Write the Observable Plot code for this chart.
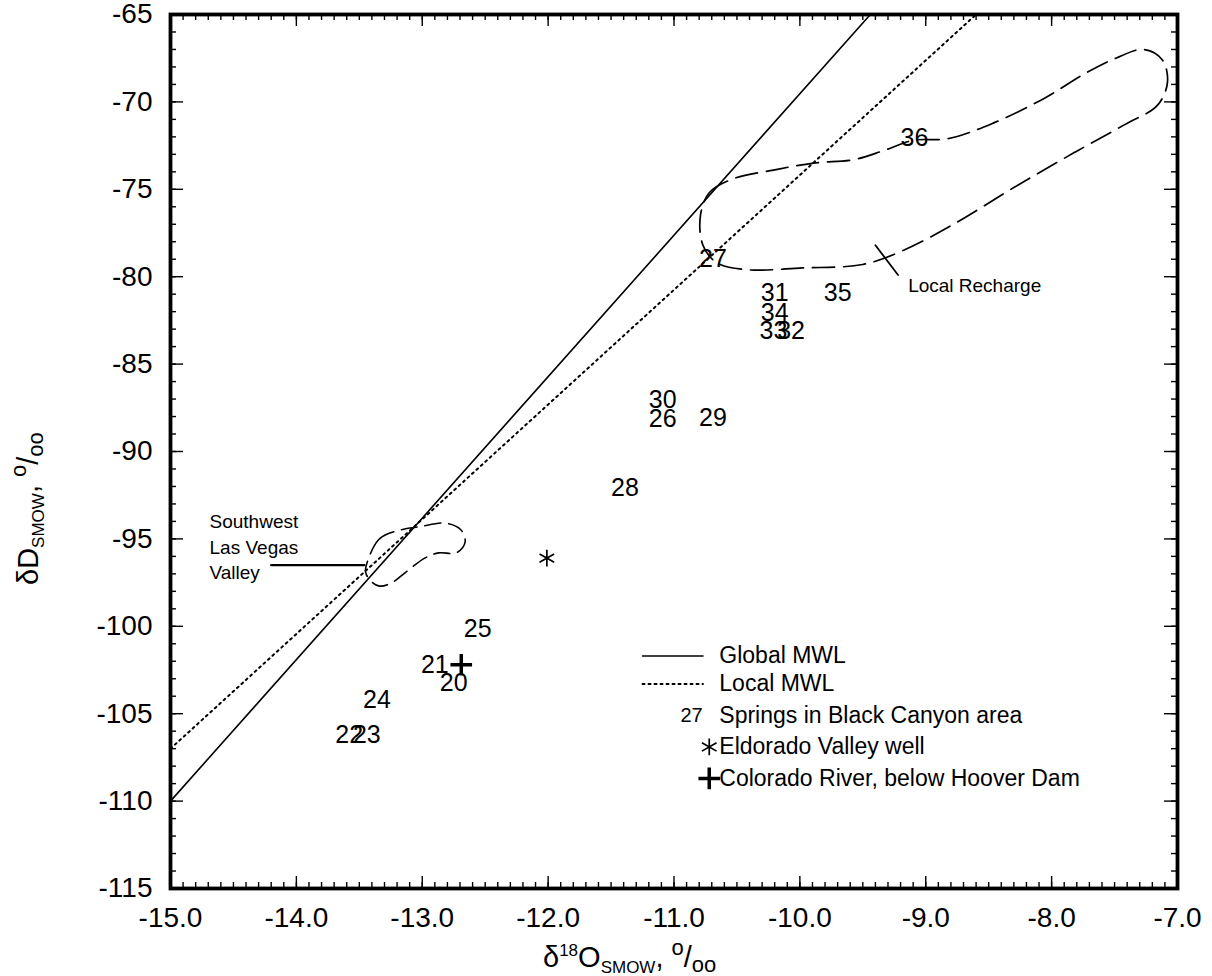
<!DOCTYPE html>
<html>
<head>
<meta charset="utf-8">
<script src="https://cdn.jsdelivr.net/npm/d3@7"></script>
<script src="https://cdn.jsdelivr.net/npm/@observablehq/plot@0.6"></script>
<style>
  body { margin: 0; background: #fff; }
  #chart { position: relative; width: 1212px; height: 976px; font-family: "Liberation Sans", Arial, sans-serif; color: #000; }
  #chart svg { position: absolute; left: 0; top: 0; }
  .axis-title { position: absolute; left: 0; top: 0; font-size: 29px; line-height: 29px; white-space: nowrap; transform-origin: 0 0; }
  .axis-title .sup { position: relative; top: -11px; font-size: 17px; }
  .axis-title .sub { position: relative; top: 6px; font-size: 17px; }
  .axis-title .pm-sup { position: relative; top: -12px; font-size: 22px; }
  .axis-title .pm-sub { position: relative; top: 5px; font-size: 22px; }
</style>
</head>
<body>
<div id="chart"></div>
<script>
// Axis ticks (per mil)
const xTicks = [-15, -14, -13, -12, -11, -10, -9, -8, -7];
const yTicks = [-115, -110, -105, -100, -95, -90, -85, -80, -75, -70, -65];

// Springs in the Black Canyon area: sample number, δ18O, δD
const springIds = ["20", "21", "22", "23", "24", "25", "26", "27", "28", "29", "30", "31", "32", "33", "34", "35", "36"];
const springO18 = [-12.75, -12.90, -13.58, -13.44, -13.36, -12.56, -11.09, -10.69, -11.39, -10.69, -11.09, -10.20, -10.07, -10.21, -10.20, -9.70, -9.09];
const springD   = [-103.25, -102.2, -106.2, -106.2, -104.2, -100.15, -88.15, -79.0, -92.1, -88.1, -87.07, -80.95, -83.1, -83.1, -82.06, -80.95, -72.05];

// Eldorado Valley well and Colorado River below Hoover Dam
const wellO18 = [-12.01];
const wellD = [-96.1];
const riverO18 = [-12.69];
const riverD = [-102.2];

// Meteoric water lines (end points)
const globalMwlO18 = [-15, -9.44];
const globalMwlD = [-110, -65];
const localMwlO18 = [-15, -8.6];
const localMwlD = [-107, -65];

// Envelope of local recharge waters
const rechargeO18 = [-10.79, -10.72, -10.53, -10.21, -9.89, -9.57, -9.34, -9.10, -8.82, -8.46, -8.06, -7.74, -7.49, -7.27, -7.12, -7.08, -7.16, -7.42, -7.82, -8.30, -8.78, -9.18, -9.50, -9.98, -10.42, -10.66, -10.77];
const rechargeD   = [-76.5, -75.2, -74.4, -73.9, -73.5, -73.3, -72.8, -72.2, -72.1, -71.2, -69.8, -68.4, -67.5, -67.0, -67.6, -68.9, -70.2, -71.3, -72.9, -74.9, -77.0, -78.5, -79.3, -79.5, -79.6, -79.2, -78.2];

// Envelope of Southwest Las Vegas Valley waters
const swlvO18 = [-13.44, -13.34, -13.18, -13.02, -12.81, -12.69, -12.66, -12.73, -12.87, -12.98, -13.13, -13.24, -13.34, -13.41, -13.45];
const swlvD   = [-96.4, -95.0, -94.5, -94.3, -94.1, -94.5, -95.2, -95.8, -95.8, -96.1, -96.9, -97.5, -97.7, -97.4, -96.9];

// Annotation leaders
const rechargeLeaderO18 = [-9.40, -9.22];
const rechargeLeaderD = [-78.2, -79.9];
const swlvLeaderO18 = [-14.2, -13.46];
const swlvLeaderD = [-96.5, -96.5];
const swlvText = ["Southwest", "Las Vegas", "Valley"];
const swlvTextD = [-94.05, -95.5, -96.95];

// Legend
const legendLabels = ["Global MWL", "Local MWL", "Springs in Black Canyon area", "Eldorado Valley well", "Colorado River, below Hoover Dam"];
const legendD = [-101.7, -103.3, -105.1, -106.9, -108.7];

const pts = (xs, ys) => xs.map((x, i) => ({x, y: ys[i]}));
const springs = springIds.map((id, i) => ({id, x: springO18[i], y: springD[i]}));

const xMinor = d3.range(-150, -69).map(d => d / 10);
const yMinor = d3.range(-115, -64);

const tickStyle = {stroke: "black", strokeWidth: 1.4};

const chart = Plot.plot({
  width: 1212,
  height: 976,
  marginLeft: 170,
  marginRight: 35,
  marginTop: 14,
  marginBottom: 88,
  x: {domain: [-15, -7], axis: null},
  y: {domain: [-115, -65], axis: null},
  style: {fontFamily: '"Liberation Sans", Arial, sans-serif', background: "#fff", color: "#000", overflow: "visible"},
  marks: [
    // inward ticks on all four sides
    Plot.ruleX(xMinor, {x: d => d, y1: -115, y2: -115, insetBottom: 6, ...tickStyle}),
    Plot.ruleX(xTicks, {x: d => d, y1: -115, y2: -115, insetBottom: 12, ...tickStyle}),
    Plot.ruleX(xMinor, {x: d => d, y1: -65, y2: -65, insetTop: 6, ...tickStyle}),
    Plot.ruleX(xTicks, {x: d => d, y1: -65, y2: -65, insetTop: 12, ...tickStyle}),
    Plot.ruleY(yMinor, {y: d => d, x1: -15, x2: -15, insetLeft: 6, ...tickStyle}),
    Plot.ruleY(yTicks, {y: d => d, x1: -15, x2: -15, insetLeft: 13, ...tickStyle}),
    Plot.ruleY(yMinor, {y: d => d, x1: -7, x2: -7, insetRight: 6, ...tickStyle}),
    Plot.ruleY(yTicks, {y: d => d, x1: -7, x2: -7, insetRight: 13, ...tickStyle}),
    Plot.frame({stroke: "black", strokeWidth: 3.8}),

    // tick labels
    Plot.text(xTicks, {x: d => d, y: -115, text: d => d.toFixed(1), dy: 30, fontSize: 28}),
    Plot.text(yTicks, {x: -15, y: d => d, text: d => String(d), textAnchor: "end", dx: -18, fontSize: 28}),

    // meteoric water lines
    Plot.line(pts(globalMwlO18, globalMwlD), {x: "x", y: "y", stroke: "black", strokeWidth: 1.6}),
    Plot.line(pts(localMwlO18, localMwlD), {x: "x", y: "y", stroke: "black", strokeWidth: 2, strokeDasharray: "2,4"}),

    // envelopes
    Plot.line(pts(rechargeO18, rechargeD), {x: "x", y: "y", curve: "catmull-rom-closed", stroke: "black", strokeWidth: 1.7, strokeDasharray: "22,9"}),
    Plot.line(pts(swlvO18, swlvD), {x: "x", y: "y", curve: "catmull-rom-closed", stroke: "black", strokeWidth: 1.6, strokeDasharray: "16,8"}),

    // annotations
    Plot.line(pts(rechargeLeaderO18, rechargeLeaderD), {x: "x", y: "y", stroke: "black", strokeWidth: 1.8}),
    Plot.text(["Local Recharge"], {x: -9.14, y: -80.55, text: d => d, textAnchor: "start", fontSize: 19}),
    Plot.line(pts(swlvLeaderO18, swlvLeaderD), {x: "x", y: "y", stroke: "black", strokeWidth: 2.4}),
    Plot.text(swlvText, {x: -14.69, y: (d, i) => swlvTextD[i], text: d => d, textAnchor: "start", fontSize: 19}),

    // samples
    Plot.text(springs, {x: "x", y: "y", text: "id", fontSize: 25}),
    Plot.dot(pts(wellO18, wellD), {x: "x", y: "y", symbol: "asterisk", r: 8, stroke: "black", strokeWidth: 1.7}),
    Plot.dot(pts(riverO18, riverD), {x: "x", y: "y", symbol: "plus", r: 7, stroke: "black", strokeWidth: 3.5}),

    // legend
    Plot.line(pts([-11.25, -10.77], [legendD[0], legendD[0]]), {x: "x", y: "y", stroke: "black", strokeWidth: 1.6}),
    Plot.line(pts([-11.25, -10.77], [legendD[1], legendD[1]]), {x: "x", y: "y", stroke: "black", strokeWidth: 2, strokeDasharray: "2,4"}),
    Plot.text(["27"], {x: -10.86, y: legendD[2], text: d => d, fontSize: 20}),
    Plot.dot([0], {x: -10.72, y: legendD[3], symbol: "asterisk", r: 8, stroke: "black", strokeWidth: 1.7}),
    Plot.dot([0], {x: -10.72, y: legendD[4], symbol: "plus", r: 7, stroke: "black", strokeWidth: 3.5}),
    Plot.text(legendLabels, {x: -10.64, y: (d, i) => legendD[i], text: d => d, textAnchor: "start", fontSize: 23})
  ]
});

const root = document.getElementById("chart");
root.appendChild(chart);

// Axis titles with super- and subscripts
const titleHtml = (sym) =>
  `<span>δ</span>${sym}<span class="sub">SMOW</span>, <span class="pm-sup">o</span>/<span class="pm-sub">oo</span>`;

const xTitle = document.createElement("div");
xTitle.className = "axis-title";
xTitle.innerHTML = titleHtml(`<span class="sup">18</span><span>O</span>`);
xTitle.style.left = "543px";
xTitle.style.top = "943px";
root.appendChild(xTitle);

const yTitle = document.createElement("div");
yTitle.className = "axis-title";
yTitle.innerHTML = titleHtml(`<span>D</span>`);
yTitle.style.transform = "translate(14px, 585px) rotate(-90deg)";
root.appendChild(yTitle);
</script>
</body>
</html>
